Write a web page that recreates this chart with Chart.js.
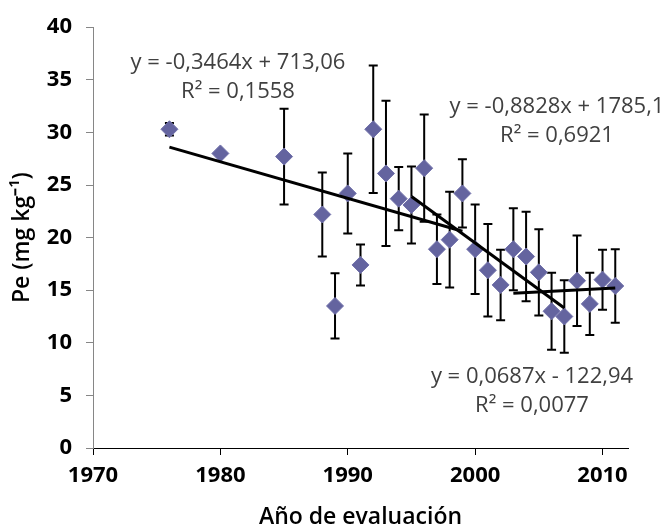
<!DOCTYPE html>
<html>
<head>
<meta charset="utf-8">
<script src="https://cdn.jsdelivr.net/npm/chart.js@4"></script>
<style>
  body { margin: 0; background: #fff; }
  #caja { width: 668px; height: 529px; }
</style>
</head>
<body>
<div id="caja"><canvas id="grafico" width="668" height="529"></canvas></div>
<script>
// años de evaluación y Pe promedio (mg/kg)
const anios = [1976, 1980, 1985, 1988, 1989, 1990, 1991, 1992, 1993, 1994, 1995, 1996, 1997, 1998,
  1999, 2000, 2001, 2002, 2003, 2004, 2005, 2006, 2007, 2008, 2009, 2010, 2011];
const pe = [30.3, 28.0, 27.7, 22.2, 13.5, 24.2, 17.4, 30.3, 26.1, 23.7, 23.1, 26.6, 18.9, 19.8,
  24.2, 18.9, 16.9, 15.5, 18.9, 18.2, 16.7, 13.0, 12.5, 15.9, 13.7, 16.0, 15.4];
// desvío (barras de error +/-)
const desvio = [0.6, 0, 4.55, 4.0, 3.1, 3.8, 1.95, 6.05, 6.9, 3.0, 3.65, 5.1, 3.3, 4.55,
  3.25, 4.25, 4.4, 3.35, 3.9, 4.25, 4.1, 3.65, 3.45, 4.3, 2.95, 2.85, 3.5];

// lineas de tendencia (extremos)
const tend1X = [1976, 1999];
const tend1Y = [28.6, 20.6];
const tend2X = [1995, 2007];
const tend2Y = [23.9, 13.3];
const tend3X = [2003, 2011];
const tend3Y = [14.7, 15.2];

const ecuaciones = [
  ["y = -0,3464x + 713,06", "R² = 0,1558"],
  ["y = -0,8828x + 1785,1", "R² = 0,6921"],
  ["y = 0,0687x - 122,94", "R² = 0,0077"],
];

const puntos = anios.map((a, i) => ({ x: a, y: pe[i] }));
const linea = (xs, ys) => xs.map((x, i) => ({ x: x, y: ys[i] }));

// barras de error dibujadas con las escalas del grafico
const barrasError = {
  id: "barrasError",
  beforeDatasetsDraw(chart) {
    const { ctx, scales } = chart;
    ctx.save();
    ctx.strokeStyle = "#000";
    ctx.lineWidth = 2;
    anios.forEach((a, i) => {
      if (!desvio[i]) return;
      const x = scales.x.getPixelForValue(a);
      const y1 = scales.y.getPixelForValue(pe[i] + desvio[i]);
      const y2 = scales.y.getPixelForValue(pe[i] - desvio[i]);
      ctx.beginPath();
      ctx.moveTo(x, y1); ctx.lineTo(x, y2);
      ctx.moveTo(x - 4.5, y1); ctx.lineTo(x + 4.5, y1);
      ctx.moveTo(x - 4.5, y2); ctx.lineTo(x + 4.5, y2);
      ctx.stroke();
    });
    ctx.restore();
  },
};

// textos de las ecuaciones
const textos = {
  id: "textos",
  afterDraw(chart) {
    const ctx = chart.ctx;
    const lugares = [[238, 63], [557, 107], [532, 377]];
    ctx.save();
    ctx.font = "22px 'Open Sans'";
    ctx.fillStyle = "#404040";
    ctx.textAlign = "center";
    ctx.textBaseline = "middle";
    ecuaciones.forEach((e, i) => {
      ctx.fillText(e[0], lugares[i][0], lugares[i][1]);
      ctx.fillText(e[1], lugares[i][0], lugares[i][1] + 29);
    });
    ctx.restore();
  },
};

const ctx = document.getElementById("grafico");

new Chart(ctx, {
  type: "scatter",
  data: {
    datasets: [
      {
        data: puntos,
        pointStyle: "rectRot",
        pointRadius: 8.5,
        pointHoverRadius: 8.5,
        backgroundColor: "#64649f",
        borderColor: "#7070aa",
        borderWidth: 1,
        order: 2,
      },
      { data: linea(tend1X, tend1Y), showLine: true, borderColor: "#000", borderWidth: 3, pointRadius: 0, order: 1 },
      { data: linea(tend2X, tend2Y), showLine: true, borderColor: "#000", borderWidth: 3, pointRadius: 0, order: 1 },
      { data: linea(tend3X, tend3Y), showLine: true, borderColor: "#000", borderWidth: 3, pointRadius: 0, order: 1 },
    ],
  },
  options: {
    responsive: false,
    animation: false,
    layout: { padding: { top: 24, right: 40, left: 0, bottom: 0 } },
    plugins: { legend: { display: false }, tooltip: { enabled: false } },
    scales: {
      x: {
        type: "linear",
        min: 1970,
        max: 2012,
        afterFit: (s) => { s.height = 81; },
        ticks: {
          stepSize: 10,
          includeBounds: false,
          callback: (v) => String(v),
          color: "#000",
          padding: 8,
          font: { family: "Open Sans", size: 22, weight: "bold" },
        },
        grid: { drawOnChartArea: false, tickLength: 7, color: "#000" },
        border: { color: "#000" },
        title: { display: true, text: "Año de evaluación", color: "#000", padding: 0,
          font: { family: "Open Sans", size: 23, weight: "600", lineHeight: 1 } },
      },
      y: {
        min: 0,
        max: 40,
        afterFit: (s) => { s.width = 93; },
        ticks: { stepSize: 5, color: "#000", padding: 14, font: { family: "Open Sans", size: 22, weight: "bold" } },
        grid: { drawOnChartArea: false, tickLength: 7, color: "#868686" },
        border: { color: "#868686" },
        title: { display: true, text: "Pe (mg kg⁻¹)", color: "#000", padding: { top: 9, bottom: 0 },
          font: { family: "Open Sans", size: 23, weight: "600", lineHeight: 1.2 } },
      },
    },
  },
  plugins: [barrasError, textos],
});
</script>
</body>
</html>
